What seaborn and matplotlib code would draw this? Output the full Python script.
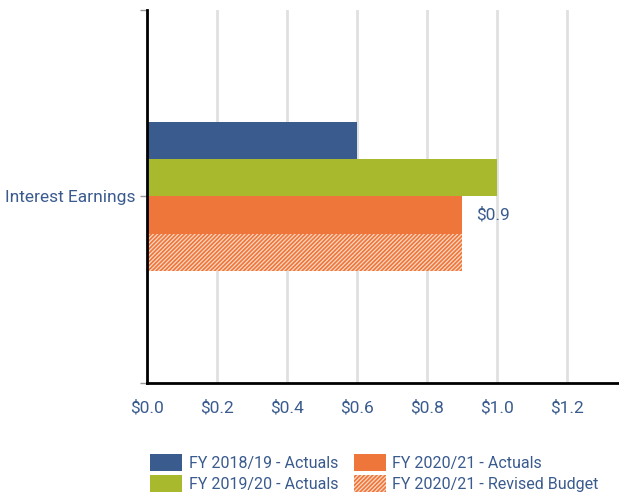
import pandas as pd
import matplotlib.pyplot as plt
import seaborn as sns

# datos
categorias = ['Interest Earnings']
series = ['FY 2018/19 - Actuals', 'FY 2019/20 - Actuals',
          'FY 2020/21 - Actuals', 'FY 2020/21 - Revised Budget']
valores = [0.6, 1.0, 0.9, 0.9]
colores = ['#3a5b8e', '#a9b92d', '#ee763a', '#ee763a']
etiqueta_valor = '$0.9'
ticks_x = [0.0, 0.2, 0.4, 0.6, 0.8, 1.0, 1.2]

df = pd.DataFrame({'cat': categorias * len(series), 'serie': series, 'valor': valores})

sns.set_theme(style='white')
plt.rcParams['font.family'] = ['Roboto', 'DejaVu Sans']
plt.rcParams['hatch.linewidth'] = 0.9
azul_texto = '#3a5b8e'
fs = 12.5

fig = plt.figure(figsize=(6.19, 4.95), dpi=100)
ax = fig.add_axes([0.2375, 0.2263, 0.7625, 0.7535])

sns.barplot(data=df, y='cat', x='valor', hue='serie', hue_order=series,
            palette=colores, orient='h', width=0.4, saturation=1,
            legend=False, linewidth=0, ax=ax)

# barra rayada (presupuesto revisado)
barras = ax.patches
barras[3].set_hatch('////////')
barras[3].set_facecolor('#ee763a')
barras[3].set_edgecolor('#fbd8c4')
barras[3].set_linewidth(0)

# etiqueta de valor en la barra naranja
b = barras[2]
ax.text(b.get_width() + 0.04, b.get_y() + b.get_height() / 2, etiqueta_valor,
        va='center', ha='left', color=azul_texto, fontsize=fs)

ax.set_xlim(0, 1.349)
ax.set_ylim(0.5, -0.5)
ax.set_xticks(ticks_x)
ax.set_xticklabels([f'${t:.1f}' for t in ticks_x], color=azul_texto, fontsize=fs)
ax.set_yticks([-0.5, 0, 0.5])
ax.set_yticklabels(['', categorias[0], ''], color=azul_texto, fontsize=fs)
ax.tick_params(axis='y', left=True, length=5, color='#999999', width=1, pad=3)
ax.tick_params(axis='x', length=0, pad=12)
ax.set_xlabel('')
ax.set_ylabel('')

ax.grid(axis='x', color='#e0e0e0', linewidth=2)
ax.set_axisbelow(True)
for s in ['top', 'right']:
    ax.spines[s].set_visible(False)
ax.spines['left'].set_color('black')
ax.spines['left'].set_linewidth(2)
ax.spines['bottom'].set_color('black')
ax.spines['bottom'].set_linewidth(2)

# leyenda
handles = []
for i, s in enumerate(series):
    p = plt.Rectangle((0, 0), 1, 1, facecolor=colores[i], edgecolor='#fbd8c4' if i == 3 else colores[i],
                      linewidth=0, hatch='////////' if i == 3 else None, label=s)
    handles.append(p)
fig.legend(handles=handles, loc='center', bbox_to_anchor=(0.605, 0.045), ncol=2,
           frameon=False, fontsize=11.5, labelcolor=azul_texto, handlelength=2.0,
           handleheight=1.25, columnspacing=1.0, handletextpad=0.4, labelspacing=0.25)

plt.savefig('out.png', dpi=100)
